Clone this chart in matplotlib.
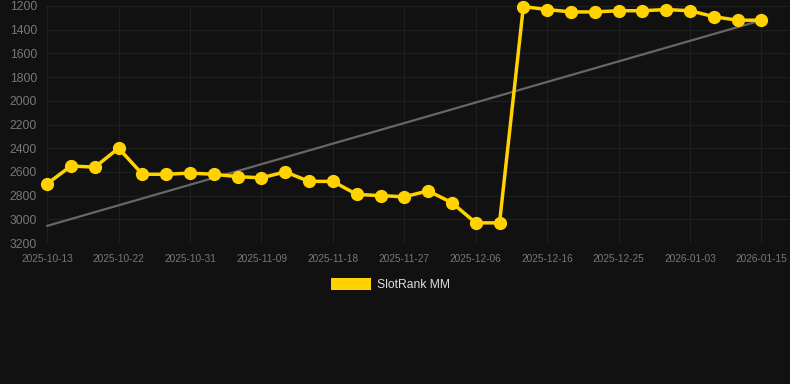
import numpy as np
import matplotlib
matplotlib.use("Agg")
import matplotlib.pyplot as plt
from matplotlib.patches import Rectangle

plt.rcParams['font.family'] = ['Liberation Sans', 'DejaVu Sans']

dates = ["2025-10-13", "2025-10-16", "2025-10-19", "2025-10-22", "2025-10-25",
         "2025-10-28", "2025-10-31", "2025-11-03", "2025-11-06", "2025-11-09",
         "2025-11-12", "2025-11-15", "2025-11-18", "2025-11-21", "2025-11-24",
         "2025-11-27", "2025-11-30", "2025-12-03", "2025-12-06", "2025-12-09",
         "2025-12-12", "2025-12-16", "2025-12-19", "2025-12-22", "2025-12-25",
         "2025-12-28", "2025-12-31", "2026-01-03", "2026-01-07", "2026-01-11",
         "2026-01-15"]
rank = [2700, 2550, 2560, 2400, 2620, 2620, 2610, 2620, 2640, 2650,
        2600, 2680, 2680, 2790, 2800, 2810, 2760, 2860, 3030, 3030,
        1205, 1230, 1250, 1250, 1240, 1240, 1230, 1240, 1290, 1320,
        1320]
yticks = [1200, 1400, 1600, 1800, 2000, 2200, 2400, 2600, 2800, 3000, 3200]
series_name = "SlotRank MM"

W, H = 790, 384
fig = plt.figure(figsize=(W / 100, H / 100), dpi=100)
fig.patch.set_facecolor("#111111")
ax = fig.add_axes([46 / W, (H - 243) / H, (790 - 46) / W, (243 - 6) / H])
ax.set_facecolor("#111111")

x = np.arange(len(rank))
coef = np.polyfit(x, rank, 1)
ax.plot(x, np.polyval(coef, x), color="#666666", lw=1.6, zorder=2)
ax.plot(x, rank, color="#FFD200", lw=2.5, marker="o", ms=8.5,
        markerfacecolor="#FFD200", markeredgecolor="#FFD200", zorder=3,
        clip_on=False)

ax.set_ylim(3200, 1200)
ax.set_xlim(-0.05, 31.2)
ax.set_yticks(yticks)
ax.set_yticklabels([str(v) for v in yticks])
ax.set_xticks(x[::3])
ax.set_xticklabels(dates[::3])
ax.grid(True, color="#1f1f1f", lw=0.8)
for s in ax.spines.values():
    s.set_visible(False)
ax.tick_params(axis="y", length=0, pad=6.5, labelsize=8.7, labelcolor="#777777")
ax.tick_params(axis="x", length=0, pad=8, labelsize=7.3, labelcolor="#777777")

fig.patches.append(Rectangle((331 / W, (H - 290) / H), 40 / W, 12 / H,
                             transform=fig.transFigure, facecolor="#FFD200",
                             edgecolor="none"))
fig.text(377 / W, (H - 284.5) / H, series_name, color="#dddddd", fontsize=8.7,
         va="center", ha="left")

fig.savefig("out.png", dpi=100, facecolor=fig.get_facecolor())
